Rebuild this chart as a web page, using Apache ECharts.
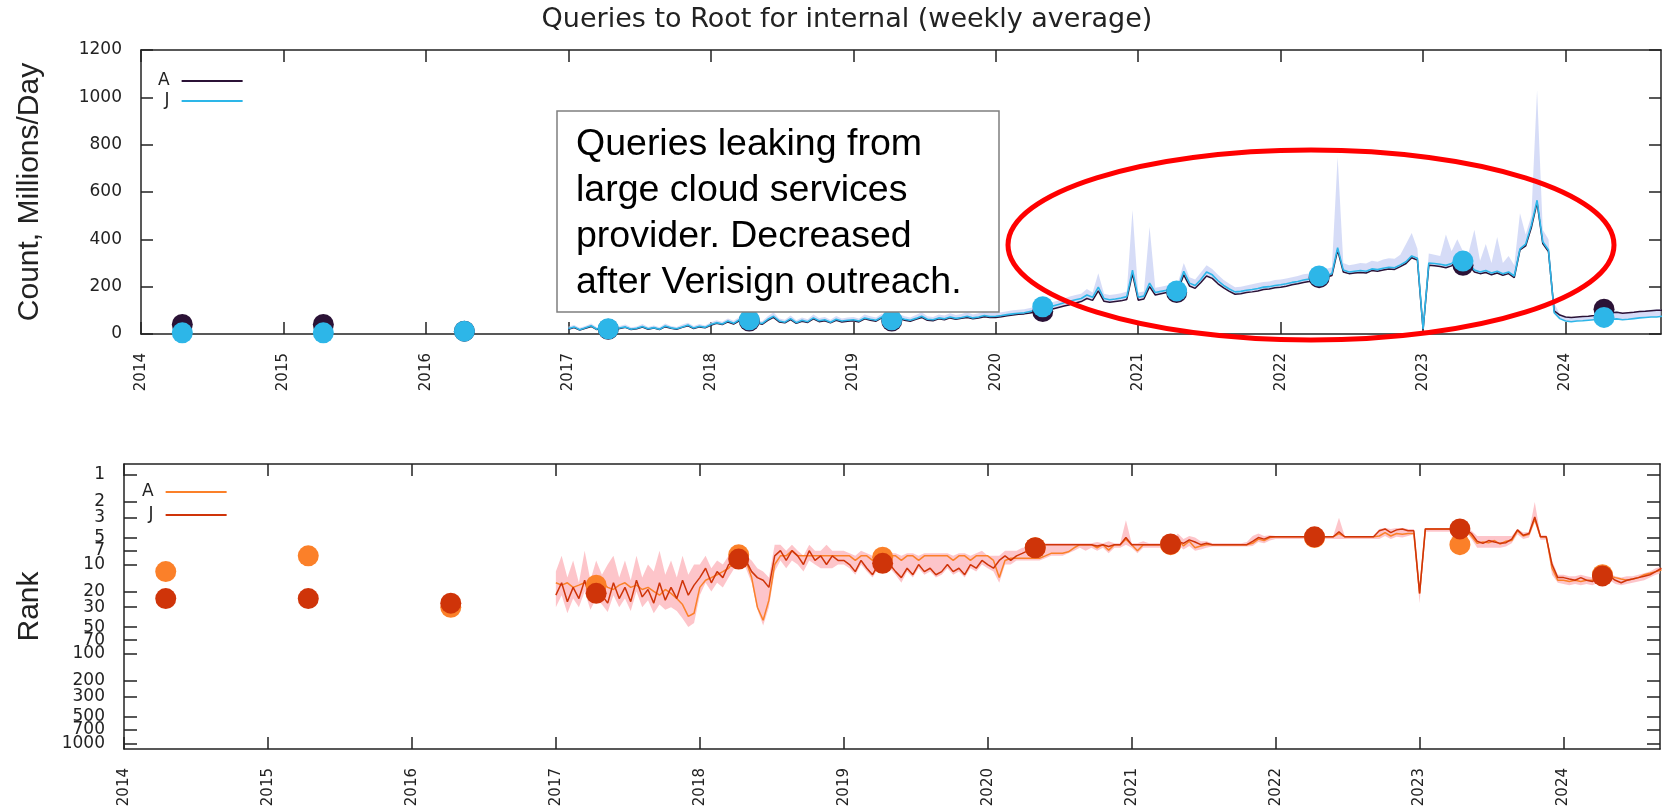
<!DOCTYPE html>
<html>
<head>
<meta charset="utf-8">
<title>Queries to Root for internal</title>
<script src="https://cdn.jsdelivr.net/npm/echarts@6/dist/echarts.min.js"></script>
<style>
html, body { margin: 0; padding: 0; background: #fff; }
#chart { width: 1662px; height: 811px; }
</style>
</head>
<body>
<div id="chart"></div>
<script>
// 年份刻度
var yearTicks = [2014, 2015, 2016, 2017, 2018, 2019, 2020, 2021, 2022, 2023, 2024];
// 排名刻度 (对数轴)
var rankTicks = [1, 2, 3, 5, 7, 10, 20, 30, 50, 70, 100, 200, 300, 500, 700, 1000];

// DITL 年度采样点
var ditlX = [2014.29, 2015.28, 2016.27, 2017.28, 2018.27, 2019.27, 2020.33, 2021.27, 2022.27, 2023.28, 2024.27];
var ditlCountA = [40, 40, 12, 20, 55, 55, 95, 175, 238, 290, 105];
var ditlCountJ = [5, 5, 12, 22, 60, 60, 115, 182, 245, 308, 70];
var ditlRankA = [12, 8, 30, 17, 7.8, 8.3, 6.5, 6, 5, 6, 13];
var ditlRankJ = [24, 24, 27, 21, 8.7, 9.7, 6.5, 5.9, 4.9, 4, 13.4];

// 周平均数据: 从 2017.0 起, 每 0.04 年一个点
var weekStart = 2017.0;
var weekStep = 0.04;

// 查询量 (百万/天)
var topJ = [
    22,30,18,26,35,20,28,22,18,25,30,20,24,32,22,27,20,34,26,22,30,38,25,33,28,
    40,48,42,55,45,60,52,58,50,44,62,75,55,50,65,48,58,52,68,56,60,50,62,55,58,
    60,55,68,62,58,72,65,60,70,62,58,66,75,62,60,68,64,72,66,70,75,68,72,78,74,
    75,78,82,85,88,90,95,100,105,112,118,125,132,138,145,150,165,155,198,150,145,148,152,158,270,
    155,160,215,175,180,185,190,195,265,215,205,230,262,250,225,205,190,178,180,185,188,192,198,200,205,
    208,212,218,222,228,232,238,245,248,255,365,270,262,265,268,265,275,272,278,282,280,292,305,330,320,
    20,300,298,295,290,298,320,310,300,270,262,268,258,265,255,262,245,360,380,460,565,390,355,90,65,
    55,52,55,56,58,60,62,60,62,64,60,62,65,68,70,72,72,75
];
var topA = [
    20,27,17,24,32,19,26,20,17,23,28,19,22,29,20,25,19,31,24,20,28,35,23,30,26,
    37,45,40,51,42,56,49,54,47,41,58,70,51,47,61,45,54,49,64,52,56,47,58,51,54,
    56,51,64,58,54,68,61,56,66,58,54,62,70,58,56,64,60,68,62,66,70,64,68,73,70,
    70,73,77,80,83,85,89,93,96,100,106,112,118,124,131,137,150,142,182,138,134,137,140,146,255,
    143,148,200,165,170,175,180,185,250,203,193,218,245,235,212,195,180,168,170,175,178,182,188,190,195,
    198,202,208,212,218,222,228,236,240,247,355,262,255,258,260,258,268,265,270,275,273,285,298,322,312,
    18,290,288,285,280,288,308,300,292,262,255,260,250,258,248,255,238,355,372,450,555,382,348,98,80,
    72,70,72,74,75,78,82,85,90,92,88,90,92,95,96,98,100,100
];
// 日波动上沿
var topHi = [
    32,38,26,34,44,28,36,30,26,34,40,28,32,42,30,36,28,44,34,30,40,48,34,42,36,
    50,58,52,66,56,72,62,70,60,54,75,92,66,60,78,58,70,62,82,68,72,60,76,66,70,
    72,66,82,75,70,86,78,72,84,75,70,80,92,75,72,82,78,88,80,85,92,82,88,95,90,
    90,92,96,100,102,105,110,115,120,128,135,142,150,158,165,170,190,175,257,170,165,168,172,180,524,
    175,180,452,195,200,205,212,220,300,240,230,260,290,275,250,228,212,198,200,205,210,215,220,222,228,
    230,235,240,245,252,256,262,270,275,282,748,300,290,295,300,298,310,305,315,320,318,335,380,427,360,
    40,340,335,330,420,350,400,350,345,440,310,380,300,410,300,330,290,510,420,500,1030,440,400,130,85,
    72,70,72,74,76,80,84,86,92,95,90,92,95,98,100,102,104,105
];

// 排名
var rankJ = [
    22,16,26,18,24,15,25,21,22,27,16,24,18,26,15,23,19,27,16,25,18,24,15,22,17,
    14,11,16,12,14,10,9,8.5,9,12,14,15,18,8,7,9,7,8,10,7,9,8,10,8,9,
    9,10,12,9,11,13,10,9,10,12,14,11,13,10,12,11,13,12,10,12,11,13,10,11,9,
    10,11,9,8,9,8,7.5,7,6.2,6,6,6,6,6,6,6,6,6,6,6.2,6,6.3,6,6,5,
    6,6,6,6,6,6,6,6,5.5,5.8,5.3,5.6,6,5.8,6,6,6,6,6,6,6,5.5,5,5.2,4.9,
    4.9,4.9,4.9,4.9,4.9,4.9,4.9,4.9,4.9,4.9,4.9,4.3,4.9,4.9,4.9,4.9,4.9,4.9,4.2,4,4.4,4.1,4,4.2,4.2,
    21,4,4,4,4,4,4,4,4,4.5,5.5,5.8,5.4,5.6,5.8,5.7,5.2,4.1,4.7,4.5,2.95,4.9,4.9,10,14,
    14,14.5,15,14,15,15.5,14,14.5,13.5,15,16,15,14.5,14,13.5,13,12,11
];
var rankA = [
    16,17,16,18,17,16,18,17,16,18,19,17,16,18,17,19,18,20,22,19,21,24,28,38,35,
    18,15,14,13,12,11,9,8,9,14,30,42,25,10,8,8,7,8,8,8,8,8,8,8,8,
    8,8,9,8,8,9,8,8,8,8,9,8,8,9,8,8,8,8,8,9,8,8,9,8,8,
    8,9,14,9,8.5,8.5,8.5,8.5,8.5,8.5,8,7.5,7.5,7.5,7.2,6.5,6,6,6,6.5,6,6.9,6,6,5.2,
    6,7,6,6,6,6,6,6,5.2,6.2,5.5,6.5,6.2,6,6,6,6,6,6,6,6,5.8,5.2,5.4,5,
    4.9,4.9,4.9,4.9,4.9,4.9,4.9,4.9,4.9,4.9,4.9,4.5,4.9,4.9,4.9,4.9,4.9,4.9,4.8,4.4,4.8,4.5,4.6,4.5,4.5,
    21,4,4,4,4,4,4,4,4,4.8,5.8,5.6,5.7,5.4,5.9,5.5,5.4,4.2,4.8,4.6,3.1,4.9,4.9,11,15,
    15,15.5,15,15.5,15,15,14.5,14,13.5,14,14.5,15,14.5,14,13,12.5,12,11.5
];
// 排名波动范围: 最好 / 最差
var rankBest = [
    12,8,14,9,16,7,15,9,13,10,8,14,9,15,8,14,10,12,7,13,9,14,8,13,10,
    10,8,11,9,10,8,7,7,8,9,11,12,14,6,6,7,6,7,8,6,7,7,6,7,7,
    7,7.5,8,7,7.5,8,7.5,7,7.5,7.5,8,7.5,7.5,8,7.5,7.5,7.5,7.5,7.5,8,7.5,7.5,8,7.5,7,
    8,8,8,7,7,7,6.5,6.5,6,5.8,5.8,5.8,5.8,5.8,5.8,5.8,5.8,5.8,5.8,5.6,5.8,5.5,5.8,5.8,3.2,
    5.8,5.8,5.5,5.8,5.8,5.8,5.8,5.5,4.5,5.2,4.8,5,5.5,5.5,5.8,5.8,5.8,5.8,5.8,5.8,5.6,4.8,4.5,4.8,4.7,
    4.8,4.8,4.8,4.8,4.8,4.8,4.8,4.8,4.8,4.8,4.8,3,4.8,4.8,4.8,4.8,4.8,4.8,4,3.9,4,3.9,3.9,4,4,
    18,3.9,3.9,3.9,3.9,3.9,3.9,3.9,3.9,4.2,4.8,4.8,4.8,4.8,4.8,4.8,4.8,4,4.4,4.3,2,4.7,4.7,9,13,
    13,13.5,13.5,13,13.5,14,13,13.5,12.5,13.5,14,13.5,13.5,13,12.5,12,11,10.5
];
var rankWorst = [
    30,22,35,24,30,20,32,24,28,34,22,30,24,33,20,30,25,35,28,32,30,33,40,50,45,
    22,16,20,16,18,14,11,10,11,16,32,48,30,12,9,11,9,10,12,9,10,11,11,11,10,
    10,11,13,10,12,14,11,10,11,13,16,12,14,11,13,12,14,13,11,13,12,14,11,12,10,
    11,12,16,10,10,9,9,9,9,9,8.5,8,8,8,7.5,7,6.5,7,6.5,7,6.5,7.5,6.5,6.5,6,
    6.5,7.5,6.5,6.5,6.5,6.5,6.5,6.5,6,6.8,6.2,7,6.8,6.5,6.3,6.3,6.3,6.3,6.3,6.3,6.3,6.2,5.6,5.8,5.4,
    5.2,5.2,5.2,5.2,5.2,5.2,5.2,5.2,5.2,5.2,5.2,5.2,5.2,5.2,5.2,5.2,5.2,5.2,5.2,4.8,5.2,4.9,5,4.8,4.6,
    27,4.3,4.3,4.3,4.3,4.3,4.3,4.3,4.3,5.2,6.5,6.5,6.5,6.5,6.5,6.3,5.8,4.6,5.2,5,3.4,5.3,5.3,13,16,
    16.5,17,16.5,17,16.5,17,16,16,15,16.5,17,16.5,16,15.5,15,14,13,12.5
];

var weekX = [];
for (var i = 0; i < topJ.length; i++) {
    weekX.push(Math.round((weekStart + i * weekStep) * 100) / 100);
}

var colorA = '#2b1236';
var colorJ = '#2db6e8';
var colorRankA = '#fb8029';
var colorRankJ = '#cf3409';
var tickFont = 'DejaVu Sans';
var bigFont = 'Liberation Sans';

function lg(v) { return Math.log10(v); }
function pairs(xs, ys, fn) {
    return xs.map(function (x, k) { return [x, fn ? fn(ys[k]) : ys[k]]; });
}

// 波动带: 下沿 / 上沿
var topLo = weekX.map(function (x, k) { return Math.min(topA[k], topJ[k]); });
var rankLoLog = rankBest.map(lg);
var rankHiLog = rankWorst.map(lg);

// 用 custom 系列画成一个多边形
function bandSeries(name, axisIndex, xs, lo, hi, fill) {
    return {
        name: name, type: 'custom', xAxisIndex: axisIndex, yAxisIndex: axisIndex,
        silent: true, clip: true, z: 1,
        data: xs.map(function (x, k) { return [x, lo[k], hi[k]]; }),
        encode: { x: 0, y: [1, 2] },
        renderItem: function (params, api) {
            if (params.dataIndex !== 0) return null;
            var pts = [];
            for (var k = 0; k < xs.length; k++) pts.push(api.coord([xs[k], hi[k]]));
            for (var m = xs.length - 1; m >= 0; m--) pts.push(api.coord([xs[m], lo[m]]));
            return { type: 'polygon', shape: { points: pts }, style: { fill: fill } };
        }
    };
}

var xMin = 2014, xMax = 2024.67;

function makeX(gridIndex, pos, showLabel) {
    return {
        type: 'value', gridIndex: gridIndex, position: pos, min: xMin, max: xMax,
        axisLine: { show: true, onZero: false, lineStyle: { color: '#222', width: 1.5 } },
        axisTick: { show: true, inside: true, length: 12, customValues: yearTicks, lineStyle: { color: '#222', width: 1.5 } },
        axisLabel: {
            show: showLabel, customValues: yearTicks, rotate: 90, margin: 19,
            fontFamily: tickFont, fontSize: 15, color: '#222',
            formatter: function (v) { return String(Math.round(v)); }
        },
        splitLine: { show: false }
    };
}

function makeCountY(pos, showLabel) {
    return {
        type: 'value', gridIndex: 0, position: pos, min: 0, max: 1200, interval: 200,
        name: showLabel ? 'Count, Millions/Day' : '', nameLocation: 'middle', nameGap: 96,
        nameTextStyle: { fontFamily: bigFont, fontSize: 30, color: '#222' },
        axisLine: { show: true, onZero: false, lineStyle: { color: '#222', width: 1.5 } },
        axisTick: { show: true, inside: true, length: 12, lineStyle: { color: '#222', width: 1.5 } },
        axisLabel: {
            show: showLabel, margin: 19, fontFamily: tickFont, fontSize: 17, color: '#222',
            formatter: function (v) { return String(v); }
        },
        splitLine: { show: false }
    };
}

// 700 和 1000 标签重叠, 700 单独放到一根附加轴上
var rankTickPos = rankTicks.filter(function (t) { return t !== 700; }).map(lg);
var rankExtraPos = [lg(700)];
function makeRankY(pos, showLabel, ticks, showLine, withName) {
    return {
        type: 'value', gridIndex: 1, position: pos, inverse: true,
        min: lg(0.753), max: lg(1151),
        name: withName ? 'Rank' : '', nameLocation: 'middle', nameGap: 79,
        nameTextStyle: { fontFamily: bigFont, fontSize: 30, color: '#222' },
        axisLine: { show: showLine, onZero: false, lineStyle: { color: '#222', width: 1.5 } },
        axisTick: { show: true, inside: true, length: 13, customValues: ticks, lineStyle: { color: '#222', width: 1.5 } },
        axisLabel: {
            show: showLabel, margin: 19, customValues: ticks,
            showMinLabel: true, showMaxLabel: true, hideOverlap: false,
            fontFamily: tickFont, fontSize: 17, color: '#222',
            formatter: function (v) { return String(Math.round(Math.pow(10, v))); }
        },
        splitLine: { show: false }
    };
}

function legendFor(left, top, gap, cA, cJ) {
    return {
        left: left, top: top, orient: 'vertical', align: 'right', selectedMode: false,
        icon: 'rect', itemWidth: 61, itemHeight: 2, itemGap: gap,
        textStyle: { fontFamily: tickFont, fontSize: 17, color: '#222', lineHeight: 20, padding: [0, 7, 0, 0] },
        data: [
            { name: 'A', itemStyle: { color: cA }, lineStyle: { color: cA } },
            { name: 'J', itemStyle: { color: cJ }, lineStyle: { color: cJ } }
        ]
    };
}

var dotStyle = function (c) { return { color: c, opacity: 1 }; };

var chart = echarts.init(document.getElementById('chart'));
var option = {
    animation: false,
    backgroundColor: '#fff',
    title: {
        text: 'Queries to Root for internal (weekly average)',
        left: 847, top: 6, textAlign: 'center', padding: 0,
        textStyle: { fontFamily: tickFont, fontSize: 27, fontWeight: 'normal', color: '#222' }
    },
    legend: [
        legendFor(153, 66, 0, colorA, colorJ),
        legendFor(137, 477, 3, colorRankA, colorRankJ)
    ],
    grid: [
        { left: 141, top: 50, width: 1520, height: 284, outerBoundsMode: 'none' },
        { left: 124, top: 464, width: 1536, height: 285, outerBoundsMode: 'none' }
    ],
    xAxis: [makeX(0, 'bottom', true), makeX(0, 'top', false), makeX(1, 'bottom', true), makeX(1, 'top', false)],
    yAxis: [
        makeCountY('left', true), makeCountY('right', false),
        makeRankY('left', true, rankTickPos, true, true), makeRankY('right', false, rankTicks.map(lg), true, false),
        makeRankY('left', true, rankExtraPos, false, false)
    ],
    series: [
        // 上图
        bandSeries('count band', 0, weekX, topLo, topHi, 'rgba(196,205,244,0.7)'),
        { name: 'A', type: 'line', xAxisIndex: 0, yAxisIndex: 0, data: pairs(weekX, topA), symbol: 'none',
          color: colorA, lineStyle: { color: colorA, width: 1.5 } },
        { name: 'J', type: 'line', xAxisIndex: 0, yAxisIndex: 0, data: pairs(weekX, topJ), symbol: 'none',
          color: colorJ, lineStyle: { color: colorJ, width: 1.6 } },
        { name: 'A ditl', type: 'scatter', xAxisIndex: 0, yAxisIndex: 0, data: pairs(ditlX, ditlCountA), symbolSize: 21,
          z: 5, itemStyle: dotStyle(colorA) },
        { name: 'J ditl', type: 'scatter', xAxisIndex: 0, yAxisIndex: 0, data: pairs(ditlX, ditlCountJ), symbolSize: 21,
          z: 6, itemStyle: dotStyle(colorJ) },
        // 下图: 排名
        bandSeries('rank band', 2, weekX, rankLoLog, rankHiLog, 'rgba(252,178,184,0.75)'),
        { name: 'A', type: 'line', xAxisIndex: 2, yAxisIndex: 2, data: pairs(weekX, rankA, lg), symbol: 'none',
          color: colorRankA, lineStyle: { color: colorRankA, width: 1.5 } },
        { name: 'J', type: 'line', xAxisIndex: 2, yAxisIndex: 2, data: pairs(weekX, rankJ, lg), symbol: 'none',
          color: colorRankJ, lineStyle: { color: colorRankJ, width: 1.5 } },
        { name: 'A rank ditl', type: 'scatter', xAxisIndex: 2, yAxisIndex: 2, data: pairs(ditlX, ditlRankA, lg), symbolSize: 21,
          z: 5, itemStyle: dotStyle(colorRankA) },
        { name: 'J rank ditl', type: 'scatter', xAxisIndex: 2, yAxisIndex: 2, data: pairs(ditlX, ditlRankJ, lg), symbolSize: 21,
          z: 6, itemStyle: dotStyle(colorRankJ) }
    ],
    graphic: [
        // 注释框
        { type: 'rect', z: 100, shape: { x: 557, y: 111, width: 442, height: 201 },
          style: { fill: '#fff', stroke: '#7f7f7f', lineWidth: 1.5 } },
        { type: 'text', z: 101, x: 576, y: 122,
          style: { text: 'Queries leaking from\nlarge cloud services\nprovider. Decreased\nafter Verisign outreach.',
                   font: '37.5px "Liberation Sans", Arial, sans-serif', lineHeight: 46, fill: '#000', verticalAlign: 'top' } },
        // 红色椭圆
        { type: 'ellipse', z: 100, shape: { cx: 1311, cy: 245, rx: 303, ry: 95 },
          style: { fill: 'none', stroke: '#ff0000', lineWidth: 5 } }
    ]
};
chart.setOption(option);
</script>
</body>
</html>
